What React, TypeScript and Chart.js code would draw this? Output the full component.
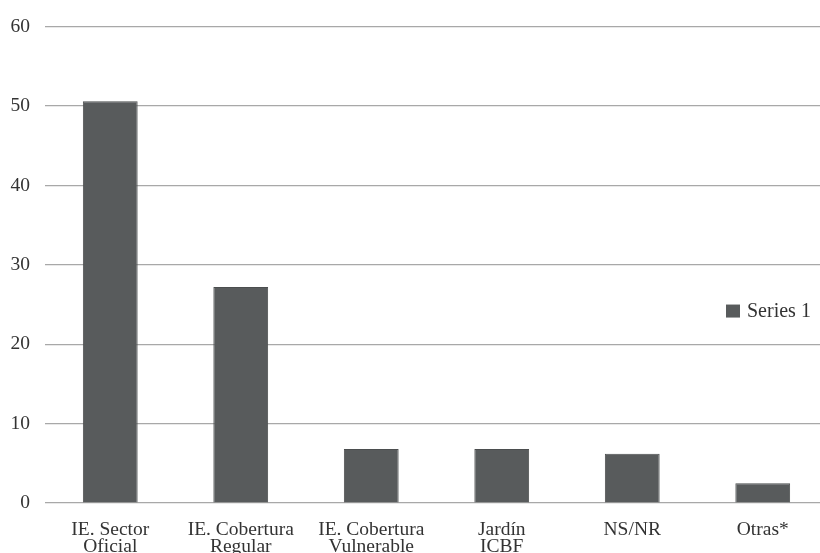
import React, { useEffect, useRef } from "react";
import { Chart, registerables } from "chart.js";

Chart.register(...registerables);

const categories: (string | string[])[] = [
  ["IE. Sector", "Oficial"],
  ["IE. Cobertura", "Regular"],
  ["IE. Cobertura", "Vulnerable"],
  ["Jardín", "ICBF"],
  "NS/NR",
  "Otras*",
];
const series1: number[] = [50.6, 27.2, 6.8, 6.8, 6.2, 2.5];
const seriesLabel = "Series 1";
const yTicks = { min: 0, max: 60, step: 10 };

const FONT = "'Liberation Serif', 'DejaVu Serif', serif";
const TEXT = "#333333";
const BAR = "#585b5c";
const GRID = "#a8a8a8";

const legendPlugin = {
  id: "sideLegend",
  afterDraw(chart: any) {
    const { ctx, chartArea } = chart;
    const ds = chart.data.datasets[0];
    const cy = chartArea.top + (chartArea.bottom - chartArea.top) * 0.597;
    const x = chartArea.right - 102;
    ctx.save();
    ctx.fillStyle = ds.backgroundColor;
    ctx.fillRect(x, cy - 6.5, 14, 13);
    ctx.fillStyle = TEXT;
    ctx.font = `20px ${FONT}`;
    ctx.textBaseline = "middle";
    ctx.textAlign = "left";
    ctx.fillText(ds.label, x + 21, cy + 1);
    ctx.restore();
  },
};

export default function App() {
  const ref = useRef<HTMLCanvasElement | null>(null);
  useEffect(() => {
    if (!ref.current) return;
    const chart = new Chart(ref.current, {
      type: "bar",
      data: {
        labels: categories,
        datasets: [
          {
            label: seriesLabel,
            data: series1,
            backgroundColor: BAR,
            borderColor: "#4b4e4f",
            borderWidth: 1,
            barPercentage: 0.42,
            categoryPercentage: 1,
          },
        ],
      },
      options: {
        animation: false,
        responsive: false,
        devicePixelRatio: 1,
        layout: { padding: { top: 24, right: 12, left: 0, bottom: 0 } },
        plugins: {
          legend: { display: false },
          tooltip: { enabled: false },
        },
        scales: {
          x: {
            grid: { display: false },
            border: { display: false },
            ticks: {
              color: TEXT,
              font: { family: FONT, size: 19.5, lineHeight: 0.9 },
              padding: 10,
              maxRotation: 0,
              autoSkip: false,
            },
            afterFit(scale: any) {
              scale.height = 67;
            },
          },
          y: {
            min: yTicks.min,
            max: yTicks.max,
            border: { display: false },
            grid: { color: GRID, lineWidth: 1.2, drawTicks: false },
            ticks: {
              stepSize: yTicks.step,
              color: TEXT,
              font: { family: FONT, size: 19.5 },
              padding: 15,
            },
            afterFit(scale: any) {
              scale.width = 45;
            },
          },
        },
      },
      plugins: [legendPlugin],
    });
    return () => chart.destroy();
  }, []);
  return (
    <div
      style={{
        position: "fixed",
        left: 0,
        top: 0,
        width: 820,
        height: 553,
        overflow: "hidden",
        background: "#fff",
      }}
    >
      <canvas ref={ref} width={840} height={570} style={{ width: 840, height: 570, display: "block" }} />
    </div>
  );
}
